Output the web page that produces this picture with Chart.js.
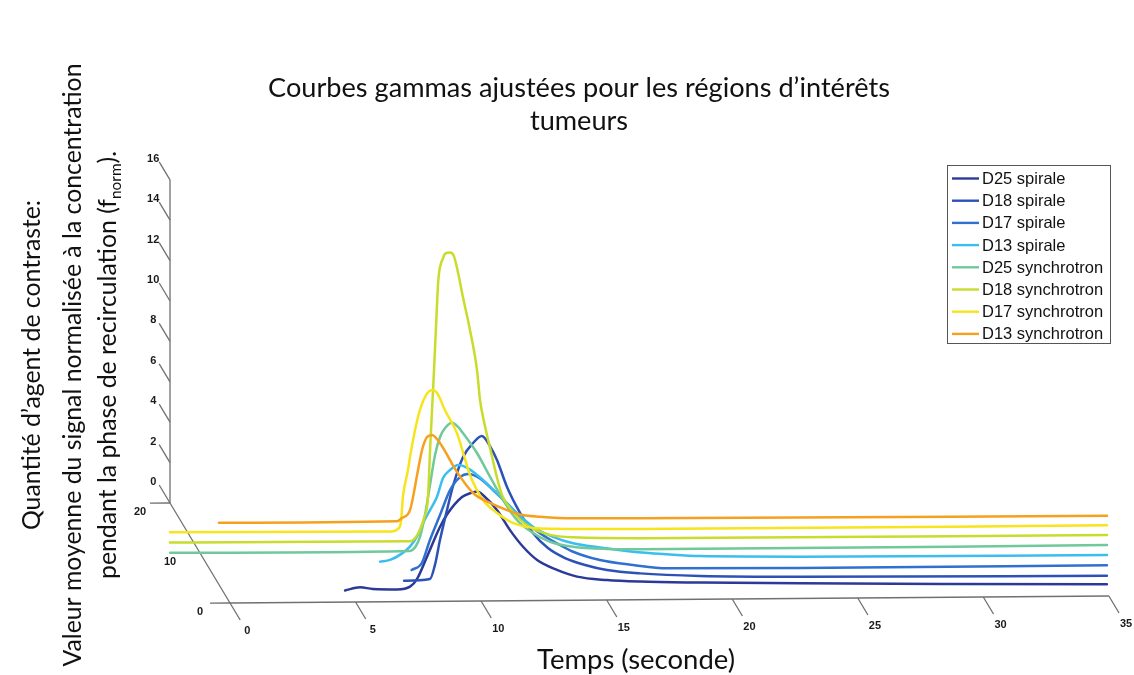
<!DOCTYPE html>
<html><head><meta charset="utf-8">
<script src="https://cdn.jsdelivr.net/npm/chart.js@4.4.1/dist/chart.umd.min.js"></script>
<style>html,body{margin:0;padding:0;background:#fff;overflow:hidden}#wrap{width:1134px;height:675px;position:relative}</style>
</head><body><div id="wrap"><canvas id="c" width="1134" height="675"></canvas></div>
<script>
// ---------- data ----------
const seriesNames = ["D25 spirale","D18 spirale","D17 spirale","D13 spirale","D25 synchrotron","D18 synchrotron","D17 synchrotron","D13 synchrotron"];
const seriesDepth = [2,4,6,8,10,12,14,16];
const seriesColors = ["#2b3a98","#2c52b6","#3070cf","#3abdf0","#6fc99a","#c9dc2c","#f7e41c","#f6a11e"];

const t_D25_spirale = [4.82,5.42,5.93,6.89,7.41,7.69,8.08,8.60,8.92,9.48,9.80,10.08,10.31,10.87,11.39,11.91,12.47,13.26,14.06,15.25,16.57,18.96,22.94,28.9,35.16];
const v_D25_spirale = [0.08,0.23,0.14,0.11,0.24,0.62,1.70,3.18,3.87,4.66,4.84,4.92,4.75,4.00,3.00,2.17,1.51,1.01,0.67,0.49,0.40,0.33,0.25,0.16,0.08];

const t_D18_spirale = [7.41,8.44,8.64,8.84,9.12,9.36,9.76,10.16,10.51,10.83,11.11,11.51,12.03,12.54,13.14,13.82,14.62,15.49,16.81,19.2,23.18,35.40];
const v_D18_spirale = [0.04,0.11,0.81,2.04,3.52,4.71,6.14,6.83,7.17,6.67,5.98,4.64,3.35,2.35,1.60,1.10,0.75,0.49,0.31,0.16,0.08,0.01];

const t_D17_spirale = [7.95,8.35,8.68,9.08,9.48,9.88,10.20,10.67,11.19,11.75,12.39,13.06,13.74,14.38,15.45,16.77,18.12,23.42,35.64];
const v_D17_spirale = [0.07,0.40,1.55,2.78,4.01,4.65,4.80,4.58,4.00,3.33,2.50,1.84,1.33,0.91,0.49,0.23,0.05,0.02,0.03];

const t_D13_spirale = [6.93,7.33,7.81,8.12,8.40,8.64,8.92,9.20,9.44,9.72,10.04,10.39,11.03,11.71,12.39,13.02,13.82,14.62,15.69,17.0,18.36,19.67,23.66,35.88];
const v_D13_spirale = [0.0,0.08,0.40,0.73,1.22,1.88,2.53,3.19,4.11,4.51,4.75,4.62,4.00,3.17,2.34,1.67,1.16,0.83,0.61,0.39,0.25,0.15,0.08,0.04];

const t_D25_synchrotron = [-1.19,8.36,8.60,8.76,8.96,9.16,9.36,9.56,9.76,10.04,10.27,10.47,11.03,11.55,12.07,12.62,13.26,13.94,14.85,16.21,17.52,36.12];
const v_D25_synchrotron = [0.03,0.02,0.26,0.71,1.79,3.28,4.76,5.65,6.09,6.35,6.15,5.84,4.84,3.66,2.50,1.51,0.86,0.42,0.16,0.04,0.01,0.04];

const t_D18_synchrotron = [-0.96,8.60,8.80,9.00,9.16,9.31,9.42,9.54,9.65,9.73,9.92,10.04,10.20,10.35,10.51,10.71,10.99,11.27,11.39,11.51,11.79,12.07,12.27,12.70,13.38,14.18,15.09,17.76,36.36];
const v_D18_synchrotron = [0.04,0.0,0.15,0.55,1.14,2.04,5.01,7.97,10.94,12.92,14.01,14.26,14.28,14.10,13.31,12.07,10.44,8.45,6.97,6.12,4.59,3.10,2.25,1.41,0.66,0.26,0.13,0.06,0.04];

const t_D17_synchrotron = [-0.72,8.12,8.36,8.48,8.56,8.76,8.84,9.16,9.44,9.72,9.92,10.23,10.71,10.95,11.23,11.75,12.31,12.94,14.02,18.0,36.6];
const v_D17_synchrotron = [0.04,0.0,0.12,0.46,1.70,3.03,3.67,5.65,6.64,6.98,6.83,5.99,4.84,3.90,2.76,1.52,0.87,0.37,0.09,0.02,0.02];

const t_D13_synchrotron = [1.47,8.56,8.76,9.08,9.40,9.56,9.76,9.96,10.27,10.95,11.59,12.27,12.94,13.58,14.26,15.57,18.24,36.84];
const v_D13_synchrotron = [0.0,0.0,0.16,0.55,2.53,3.52,4.16,4.26,3.86,2.42,1.37,0.87,0.51,0.26,0.17,0.08,0.05,0.0];

const timeTicks = [0,5,10,15,20,25,30,35];
const depthTicks = [0,10,20];
const valueTicks = [0,2,4,6,8,10,12,14,16];

const titleLines = ["Courbes gammas ajustées pour les régions d\u2019intérêts","tumeurs"];
const xTitle = "Temps (seconde)";
const yTitleLines = ["Quantité d\u2019agent de contraste:","Valeur moyenne du signal normalisée à la concentration","pendant la phase de recirculation (f"];

// ---------- oblique 3D projection into the chart's data space ----------
const KX = -3.0/25.11;   // time shift per depth unit
const KY = 5.0/20.2;     // value shift per depth unit
const KT = 0.2/20.2;     // slight tilt of the floor
function proj(t,d,v){ return {x: t + KX*d, y: v + KY*d + KT*t}; }

const tArrays = [t_D25_spirale,t_D18_spirale,t_D17_spirale,t_D13_spirale,t_D25_synchrotron,t_D18_synchrotron,t_D17_synchrotron,t_D13_synchrotron];
const vArrays = [v_D25_spirale,v_D18_spirale,v_D17_spirale,v_D13_spirale,v_D25_synchrotron,v_D18_synchrotron,v_D17_synchrotron,v_D13_synchrotron];

const datasets = seriesNames.map((name,i)=>({
  label: name,
  data: tArrays[i].map((t,j)=>proj(t, seriesDepth[i], vArrays[i][j])),
  borderColor: seriesColors[i],
  backgroundColor: seriesColors[i],
  borderWidth: 2.5,
  pointRadius: 0,
  showLine: true,
  fill: false,
  tension: 0,
  cubicInterpolationMode: 'monotone',
  order: seriesNames.length - i
}));

function fitFont(ctx, text, family, target, weight){
  ctx.font = (weight||'') + ' 100px ' + family;
  const w = ctx.measureText(text).width;
  return 100*target/w;
}

const axes3d = {
  id: 'axes3d',
  beforeDatasetsDraw(chart){
    const ctx = chart.ctx, sx = chart.scales.x, sy = chart.scales.y;
    const P = (t,d,v)=>{ const p = proj(t,d,v); return [sx.getPixelForValue(p.x), sy.getPixelForValue(p.y)]; };
    ctx.save();
    ctx.strokeStyle = '#707070';
    ctx.lineWidth = 1.3;
    const line = (a,b)=>{ ctx.beginPath(); ctx.moveTo(a[0],a[1]); ctx.lineTo(b[0],b[1]); ctx.stroke(); };
    line(P(0,0,0), P(35,0,0));
    line(P(0,0,0), P(0,20,0));
    line(P(0,20,0), P(0,20,16));
    ctx.fillStyle = '#1a1a1a';
    ctx.font = 'bold 11px "Liberation Sans Narrow", "Liberation Sans", Arial, sans-serif';
    ctx.textAlign = 'center'; ctx.textBaseline = 'middle';
    timeTicks.forEach(tk=>{
      const a = P(tk,0,0), b = P(tk,-3.4,0);
      line(a,b);
      ctx.fillText(String(tk), b[0]+7, b[1]+11);
    });
    depthTicks.forEach(dk=>{
      const a = P(0,dk,0), b = P(-0.8,dk,0);
      line(a,b);
      ctx.fillText(String(dk), a[0]-30, a[1]+9);
    });
    valueTicks.forEach(vk=>{
      const a = P(0,20,vk), b = P(0,23.6,vk);
      line(a,b);
      ctx.fillText(String(vk), b[0]-6, b[1]-3);
    });
    ctx.restore();
  },
  afterDraw(chart){
    const ctx = chart.ctx;
    ctx.save();
    ctx.fillStyle = '#111';
    ctx.textAlign = 'center'; ctx.textBaseline = 'alphabetic';
    const fam = 'Lato, "Open Sans", sans-serif';
    const ts = fitFont(ctx, titleLines[0], fam, 622);
    ctx.font = ts.toFixed(2) + 'px ' + fam;
    ctx.fillText(titleLines[0], 579, 97);
    ctx.fillText(titleLines[1], 579, 130);
    const xs = fitFont(ctx, xTitle, fam, 198);
    ctx.font = xs.toFixed(2) + 'px ' + fam;
    ctx.fillText(xTitle, 636, 669);
    const ys = fitFont(ctx, yTitleLines[1], fam, 603);
    ctx.font = ys.toFixed(2) + 'px ' + fam;
    const cy = 365;
    ctx.save(); ctx.translate(40, cy); ctx.rotate(-Math.PI/2); ctx.fillText(yTitleLines[0], 0, 0); ctx.restore();
    ctx.save(); ctx.translate(81, cy); ctx.rotate(-Math.PI/2); ctx.fillText(yTitleLines[1], 0, 0); ctx.restore();
    ctx.save(); ctx.translate(116, cy); ctx.rotate(-Math.PI/2);
    const big = ctx.font;
    const w1 = ctx.measureText(yTitleLines[2]).width;
    const smallFont = (ys*0.62).toFixed(2) + 'px ' + fam;
    ctx.font = smallFont; const w2 = ctx.measureText('norm').width;
    ctx.font = big; const w3 = ctx.measureText(').').width;
    const total = w1 + w2 + w3;
    let x0 = -total/2;
    ctx.textAlign = 'left';
    ctx.fillText(yTitleLines[2], x0, 0);
    ctx.font = smallFont; ctx.fillText('norm', x0 + w1, 5);
    ctx.font = big; ctx.fillText(').', x0 + w1 + w2, 0);
    ctx.restore();
    const L = 947, T = 165, R = 1110, B = 343;
    ctx.fillStyle = '#fff'; ctx.fillRect(L,T,R-L,B-T);
    ctx.strokeStyle = '#555'; ctx.lineWidth = 1; ctx.strokeRect(L+0.5,T+0.5,R-L,B-T);
    ctx.font = '16.5px "Liberation Sans", Arial, sans-serif';
    ctx.textAlign = 'left'; ctx.textBaseline = 'middle';
    seriesNames.forEach((n,i)=>{
      const y = 178.5 + i*22.2;
      ctx.strokeStyle = seriesColors[i]; ctx.lineWidth = 2.4;
      ctx.beginPath(); ctx.moveTo(952,y); ctx.lineTo(979,y); ctx.stroke();
      ctx.fillStyle = '#111'; ctx.fillText(n, 982, y+1);
    });
    ctx.restore();
  }
};

const pxPerT = 25.11, pxPerV = 20.2, originX = 230, originY = 603;
new Chart(document.getElementById('c'), {
  type: 'scatter',
  data: { datasets },
  options: {
    responsive: false,
    animation: false,
    devicePixelRatio: 1,
    layout: { padding: 0 },
    plugins: { legend: { display: false }, title: { display: false }, tooltip: { enabled: false } },
    scales: {
      x: { type: 'linear', display: false, min: -originX/pxPerT, max: (1134-originX)/pxPerT },
      y: { type: 'linear', display: false, min: -(675-originY)/pxPerV, max: originY/pxPerV }
    },
    elements: { line: { borderCapStyle: 'round', borderJoinStyle: 'round' } }
  },
  plugins: [axes3d]
});
</script>
</body></html>
